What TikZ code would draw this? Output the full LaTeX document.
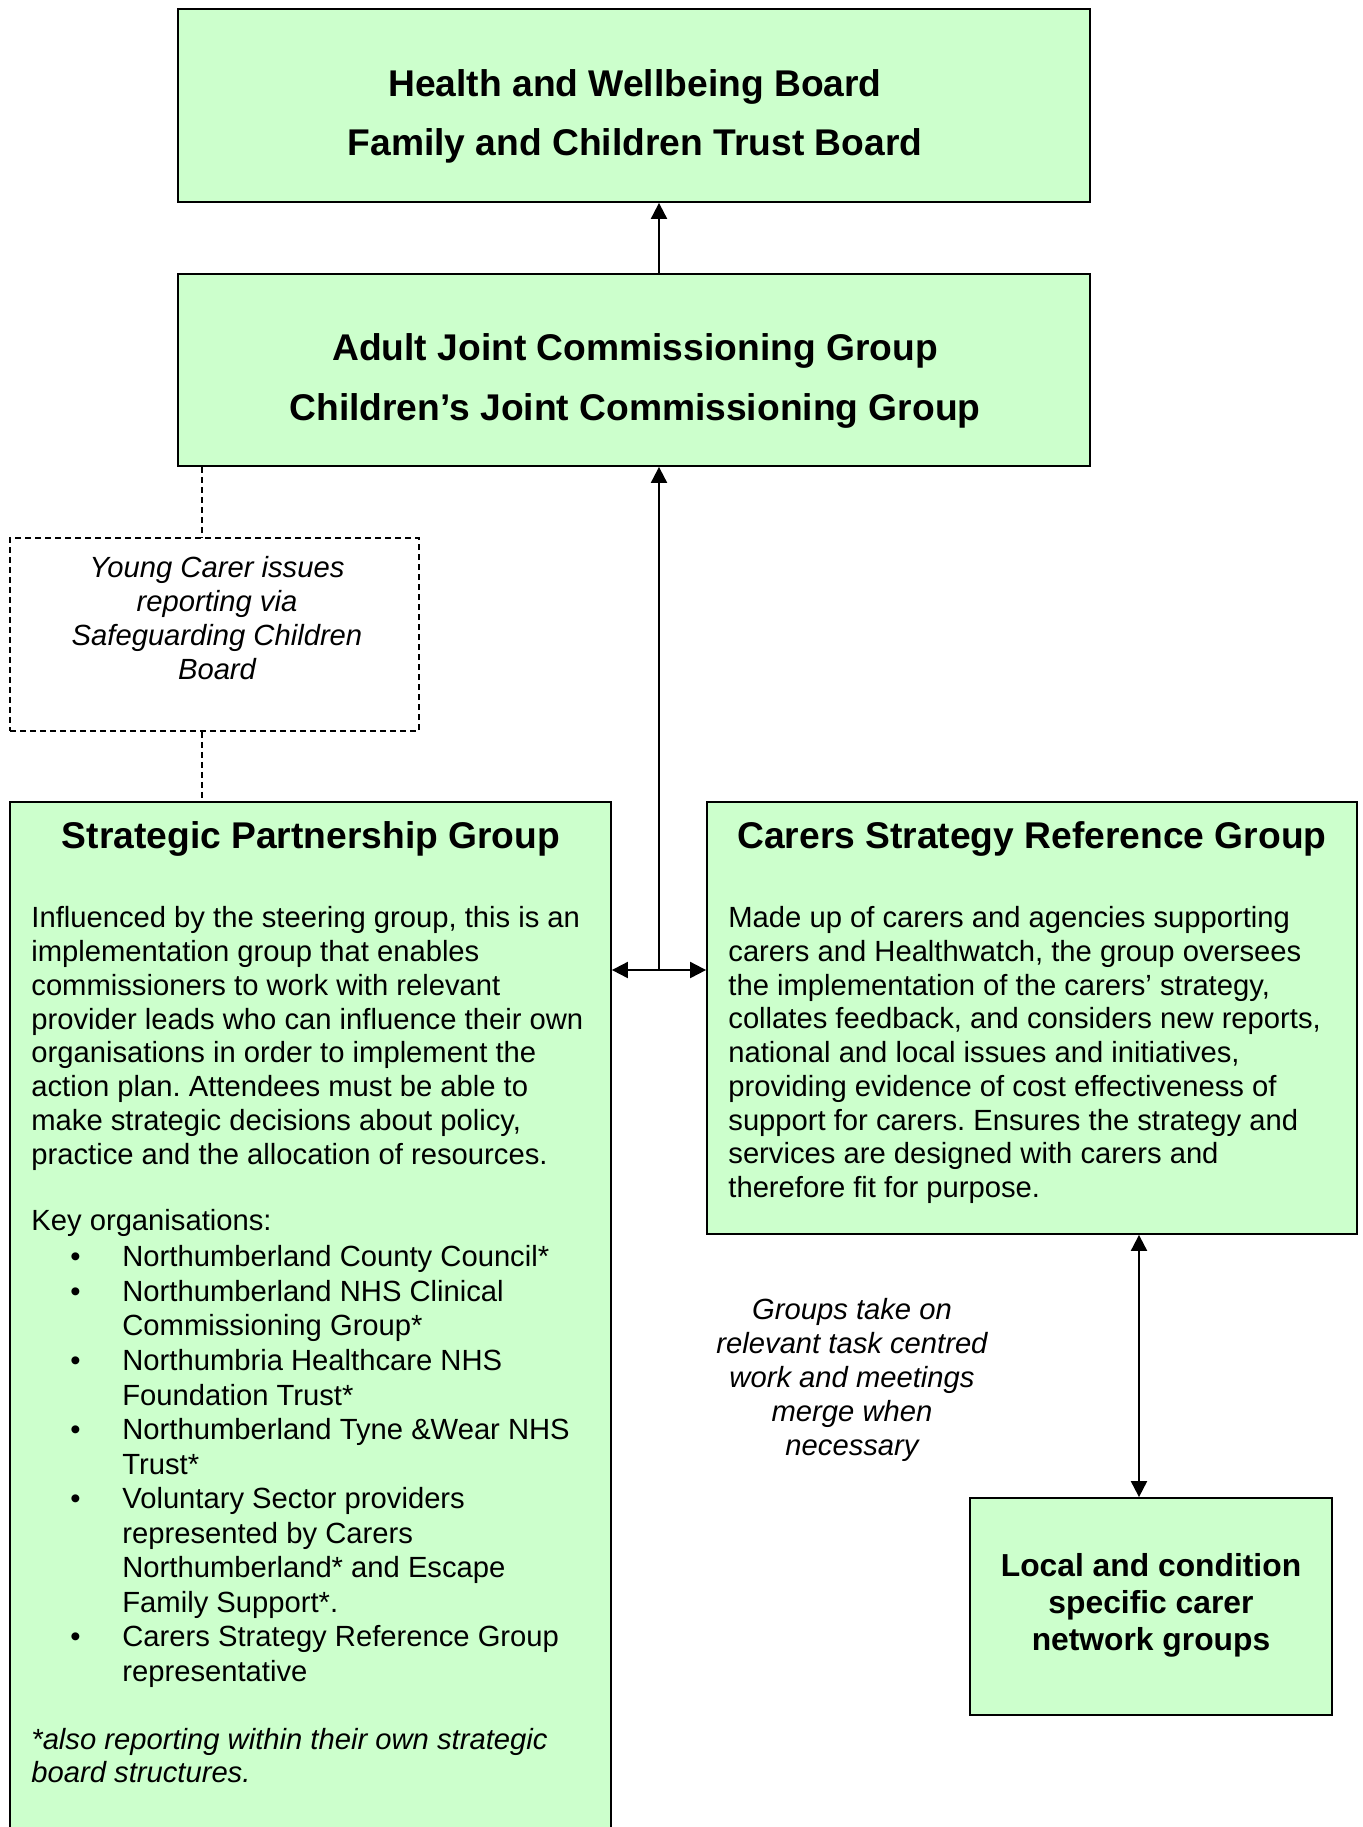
\documentclass[tikz,border=0pt]{standalone}
\usepackage{fontspec}
\setmainfont{Liberation Sans}
\usetikzlibrary{arrows.meta}
\definecolor{boxgreen}{HTML}{CCFFCC}
\newcommand\myblt[1]{\hspace*{22pt}\makebox[0pt]{\textbullet}\hspace*{23.5pt}#1}
\newcommand\mycont[1]{\hspace*{45.5pt}#1}
\frenchspacing
\begin{document}
\begin{tikzpicture}[x=0.5pt,y=-0.5pt,
  gbox/.style={draw=black, fill=boxgreen, line width=0.9pt, rectangle, inner sep=0pt},
  dbox/.style={draw=black, line width=0.75pt, dash pattern=on 3pt off 2pt, rectangle, inner sep=0pt},
  btitle/.style={font=\fontsize{18.6}{29.7}\selectfont\bfseries, align=center, inner sep=0pt},
  body/.style={font=\fontsize{14.6}{16.9}\selectfont, align=left, inner sep=0pt, anchor=north west},
  itext/.style={font=\fontsize{14.6}{16.9}\selectfont\itshape, align=center, inner sep=0pt},
  arr/.style={line width=1pt, -{Triangle[length=8pt,width=8pt]}},
  arrb/.style={line width=1pt, {Triangle[length=8pt,width=8pt]}-{Triangle[length=8pt,width=8pt]}},
  dline/.style={line width=0.75pt, dash pattern=on 3pt off 2pt}]
\useasboundingbox (0,0) rectangle (1363,1827);
\clip (0,0) rectangle (1363,1827);

% boxes
\node[gbox, minimum width=456pt, minimum height=96.5pt] (nTop) at (634,105.5) {};
\node[gbox, minimum width=456pt, minimum height=96pt] (nJCG) at (634,370) {};
\node[dbox, minimum width=204.5pt, minimum height=96.5pt] (nYC) at (214.5,634.5) {};
\node[gbox, minimum width=300.5pt, minimum height=519pt] (nSPG) at (310.5,1321) {};
\node[gbox, minimum width=325pt, minimum height=216pt] (nCSRG) at (1032,1018) {};
\node[gbox, minimum width=181pt, minimum height=108.5pt] (nLocal) at (1151,1606.5) {};

% titles
\node[btitle] (tTop) at (635,116.5) {Health and Wellbeing Board\\Family and Children Trust Board};
\node[btitle] (tJCG) at (635,381) {Adult Joint Commissioning Group\\Children’s Joint Commissioning Group};
\node[btitle] (tSPG) at (311,839) {Strategic Partnership Group};
\node[btitle] (tCSRG) at (1032,839) {Carers Strategy Reference Group};
\node[btitle, font=\fontsize{15.9}{18.6}\selectfont\bfseries] (tLocal) at (1151,1605.5) {Local and condition\\specific carer\\network groups};

% italic texts
\node[itext] (tYC) at (217,618) {Young Carer issues\\reporting via\\Safeguarding Children\\Board};
\node[itext, font=\fontsize{14.6}{17}\selectfont\itshape] (tGroups) at (852,1380) {Groups take on\\relevant task centred\\work and meetings\\merge when\\necessary};

% body texts
\node[body] (bSPG) at (31,903.6) {\strut Influenced by the steering group, this is an\\
implementation group that enables\\
commissioners to work with relevant\\
provider leads who can influence their own\\
organisations in order to implement the\\
action plan. Attendees must be able to\\
make strategic decisions about policy,\\
practice and the allocation of resources.\\[16.3pt]
Key organisations:\\[1.16pt]
\myblt{Northumberland County Council*}\\[0.38pt]
\myblt{Northumberland NHS Clinical}\\[0.38pt]
\mycont{Commissioning Group*}\\[0.38pt]
\myblt{Northumbria Healthcare NHS}\\[0.38pt]
\mycont{Foundation Trust*}\\[0.38pt]
\myblt{Northumberland Tyne \&Wear NHS}\\[0.38pt]
\mycont{Trust*}\\[0.38pt]
\myblt{Voluntary Sector providers}\\[0.38pt]
\mycont{represented by Carers}\\[0.38pt]
\mycont{Northumberland* and Escape}\\[0.38pt]
\mycont{Family Support*.}\\[0.38pt]
\myblt{Carers Strategy Reference Group}\\[0.38pt]
\mycont{representative}\\[16.9pt]
\textit{*also reporting within their own strategic}\\
\textit{board structures.}};

\node[body, font=\fontsize{14.6}{16.85}\selectfont] (bCSRG) at (728,903.8) {\strut Made up of carers and agencies supporting\\
carers and Healthwatch, the group oversees\\
the implementation of the carers’ strategy,\\
collates feedback, and considers new reports,\\
national and local issues and initiatives,\\
providing evidence of cost effectiveness of\\
support for carers. Ensures the strategy and\\
services are designed with carers and\\
therefore fit for purpose.};

% connectors
\coordinate (jn) at (659,970);
\coordinate (rx) at (1139,1000);
\coordinate (dx) at (202,600);
\draw[arr] (jn |- nJCG.north) -- (jn |- nTop.south);
\draw[arr] (jn) -- (jn |- nJCG.south);
\draw[arrb] (nSPG.east |- jn) -- (nCSRG.west |- jn);
\draw[arrb] (rx |- nCSRG.south) -- (rx |- nLocal.north);
\draw[dline] (dx |- nJCG.south) -- (dx |- nYC.north);
\draw[dline] (dx |- nYC.south) -- (dx |- nSPG.north);
\end{tikzpicture}
\end{document}
